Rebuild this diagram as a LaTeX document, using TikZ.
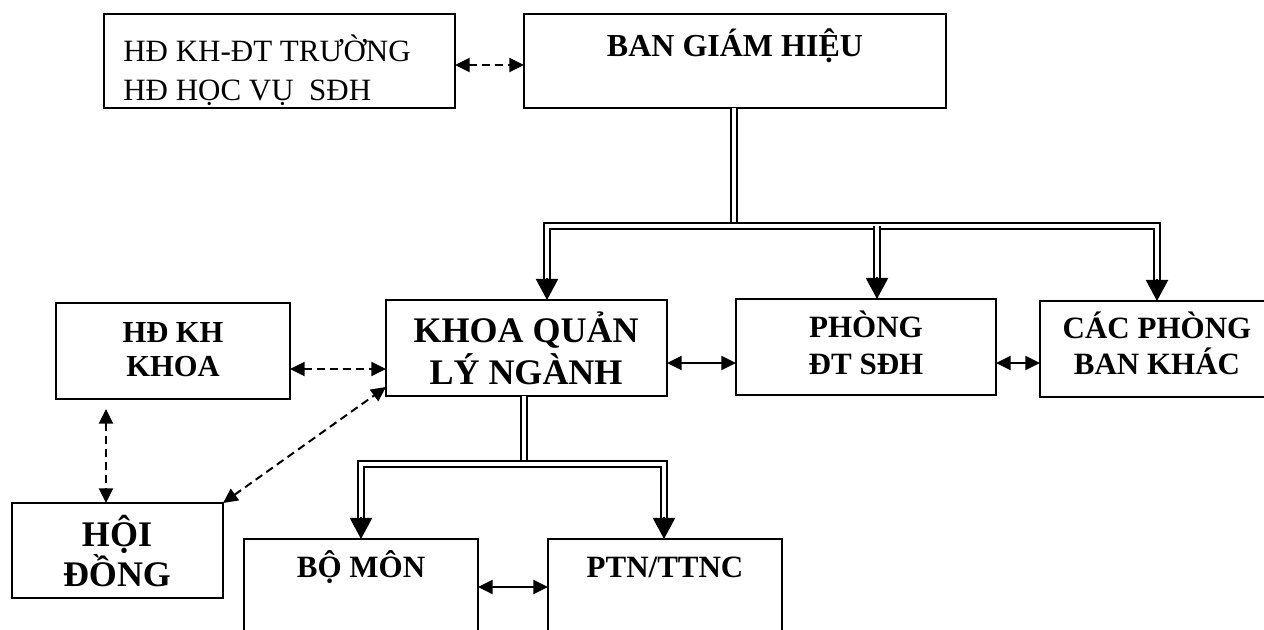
\documentclass[tikz,border=0pt]{standalone}
\usepackage{fontspec}
\setmainfont{Liberation Serif}
\usetikzlibrary{arrows.meta,calc}
\begin{document}
\begin{tikzpicture}[x=0.75pt,y=-0.75pt,
  box/.style={draw, line width=1.5pt, inner sep=0pt, outer sep=0pt, anchor=north west},
  rtxt/.style={inner sep=0pt, anchor=base west, font=\fontsize{23.25pt}{28pt}\selectfont},
  btxt/.style={inner sep=0pt, anchor=base, font=\fontsize{23.25pt}{28pt}\selectfont\bfseries},
  bigtxt/.style={inner sep=0pt, anchor=base, font=\fontsize{27pt}{32pt}\selectfont\bfseries},
  dbl/.style={draw, double, double distance=3.4pt, line width=1.5pt},
  bigtip/.style={line width=1.5pt, -{Triangle[length=15.75pt,width=16.5pt]}},
  solidarr/.style={line width=1.5pt, {Triangle[length=11pt,width=10.5pt]}-{Triangle[length=11pt,width=10.5pt]}},
  dasharr/.style={solidarr, dash pattern=on 6pt off 3.75pt},
]
\useasboundingbox (0,0) rectangle (1264,630);
\fill[white] (0,0) rectangle (1264,630);
\clip (0,0) rectangle (1264,630);

% boxes
\node[box, minimum width=263.25pt, minimum height=70.5pt] (a) at (104,14) {};
\node[box, minimum width=316.5pt, minimum height=70.5pt] (bgh) at (524,14) {};
\node[box, minimum width=210.75pt, minimum height=72pt] (khoa) at (386,300) {};
\node[box, minimum width=175.5pt, minimum height=72pt] (hdk) at (56,303) {};
\node[box, minimum width=195pt, minimum height=72pt] (phong) at (736,299) {};
\node[box, minimum width=175.5pt, minimum height=72pt] (cac) at (1040,301) {};
\node[box, minimum width=158.25pt, minimum height=71.25pt] (hoi) at (12,503) {};
\node[box, minimum width=175.5pt, minimum height=83.25pt] (bm) at (244,539) {};
\node[box, minimum width=175.5pt, minimum height=83.25pt] (ptn) at (548,539) {};

% texts
\node[rtxt] (aT1) at (123,62) {HĐ KH-ĐT TRƯỜNG};
\node[rtxt] (aT2) at (123,101) {HĐ HỌC VỤ~~SĐH};
\node[btxt, font=\fontsize{24pt}{28pt}\selectfont\bfseries] (bghT) at (735,57) {BAN GIÁM HIỆU};
\node[bigtxt] (khoaT1) at (526,343) {KHOA QUẢN};
\node[bigtxt] (khoaT2) at (526,385) {LÝ NGÀNH};
\node[btxt, font=\fontsize{22.9pt}{28pt}\selectfont\bfseries] (hdkT1) at (173,343) {HĐ KH};
\node[btxt, font=\fontsize{22.9pt}{28pt}\selectfont\bfseries] (hdkT2) at (173,377) {KHOA};
\node[btxt] (phT1) at (866,338) {PHÒNG};
\node[btxt] (phT2) at (866,375) {ĐT SĐH};
\node[btxt] (cacT1) at (1157,339) {CÁC PHÒNG};
\node[btxt] (cacT2) at (1157,375) {BAN KHÁC};
\node[bigtxt] (hoiT1) at (117,547) {HỘI};
\node[bigtxt] (hoiT2) at (117,587) {ĐỒNG};
\node[btxt] (bmT) at (361,578) {BỘ MÔN};
\node[btxt] (ptnT) at (665,578) {PTN/TTNC};

% coordinates
\coordinate (j1) at (734,226);
\coordinate (L1) at (547,226);
\coordinate (M1) at (877,226);
\coordinate (R1) at (1157,226);
\coordinate (j2) at (524,464);
\coordinate (L2) at (361,464);
\coordinate (R2) at (664,464);
\coordinate (r1) at (0,65);
\coordinate (r2) at (0,363);
\coordinate (r3) at (0,369);
\coordinate (r4) at (0,387);
\coordinate (r5) at (0,587);
\coordinate (v1) at (106,0);

% top tree
\draw[dbl] (bgh.south -| j1) -- (j1);
\draw[dbl] ($(L1 |- khoa.north)+(0,-20)$) -- (L1) -- (R1) -- ($(R1 |- cac.north)+(0,-20)$);
\draw[dbl] (M1) -- ($(M1 |- phong.north)+(0,-20)$);
\draw[bigtip] ($(L1 |- khoa.north)+(0,-22)$) -- (L1 |- khoa.north);
\draw[bigtip] ($(M1 |- phong.north)+(0,-22)$) -- (M1 |- phong.north);
\draw[bigtip] ($(R1 |- cac.north)+(0,-22)$) -- (R1 |- cac.north);

% bottom tree
\draw[dbl] (khoa.south -| j2) -- (j2);
\draw[dbl] ($(L2 |- bm.north)+(0,-20)$) -- (L2) -- (R2) -- ($(R2 |- ptn.north)+(0,-20)$);
\draw[bigtip] ($(L2 |- bm.north)+(0,-22)$) -- (L2 |- bm.north);
\draw[bigtip] ($(R2 |- ptn.north)+(0,-22)$) -- (R2 |- ptn.north);

% horizontal links
\draw[dasharr] (a.east |- r1) -- (bgh.west |- r1);
\draw[solidarr] (khoa.east |- r2) -- (phong.west |- r2);
\draw[solidarr] (phong.east |- r2) -- (cac.west |- r2);
\draw[dasharr] (hdk.east |- r3) -- (khoa.west |- r3);
\draw[solidarr] (bm.east |- r5) -- (ptn.west |- r5);

% dashed links to HOI DONG
\draw[dasharr, shorten <=7.5pt] (hdk.south -| v1) -- (hoi.north -| v1);
\draw[dasharr] (hoi.north east) -- (khoa.west |- r4);
\end{tikzpicture}
\end{document}
